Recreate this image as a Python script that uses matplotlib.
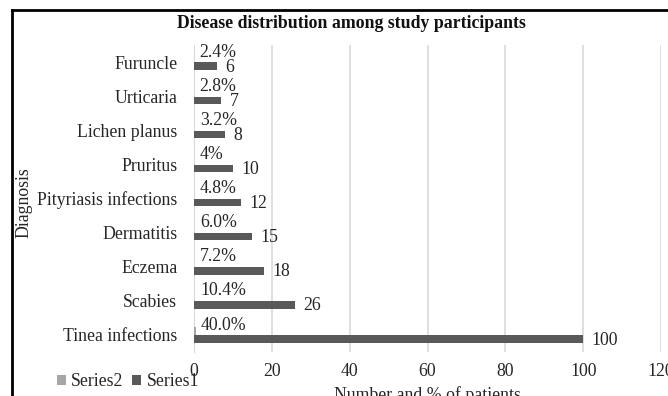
import matplotlib
matplotlib.use("Agg")
import matplotlib.pyplot as plt
from matplotlib.lines import Line2D
import numpy as np

plt.rcParams["font.family"] = ["Liberation Serif", "DejaVu Serif"]

# Diagnoses, top to bottom
diagnoses = ["Furuncle", "Urticaria", "Lichen planus", "Pruritus",
             "Pityriasis infections", "Dermatitis", "Eczema", "Scabies",
             "Tinea infections"]
# Series1: number of patients
patients = [6, 7, 8, 10, 12, 15, 18, 26, 100]
# Series2: share of patients (fraction)
share = [0.024, 0.028, 0.032, 0.04, 0.048, 0.06, 0.072, 0.104, 0.40]
share_labels = ["2.4%", "2.8%", "3.2%", "4%", "4.8%", "6.0%", "7.2%",
                "10.4%", "40.0%"]
x_ticks = [0, 20, 40, 60, 80, 100, 120]

W, H = 668, 396
fig = plt.figure(figsize=(W / 100, H / 100), dpi=100)
ax = fig.add_axes([194 / W, 1 - 352 / H, (661 - 194) / W, (352 - 45) / H])

y = np.arange(len(diagnoses))
h = 0.22
off = 0.12
c1, c2 = "#595959", "#a6a6a6"

ax.barh(y - off, share, height=h, color=c2, label="Series2", zorder=3)
ax.barh(y + off, patients, height=h, color=c1, label="Series1", zorder=3)

fs = 12.8
txt = "#262626"
# percentage labels sit above each pair, counts to the right of Series1
for yi, v, lab in zip(y, share, share_labels):
    ax.annotate(lab, (v, yi - 0.29), xytext=(4, 0),
                textcoords="offset points", ha="left", va="center",
                fontsize=fs, color=txt)
for yi, v in zip(y, patients):
    ax.annotate(str(v), (v, yi + 0.15), xytext=(6, 0),
                textcoords="offset points", ha="left", va="center",
                fontsize=fs, color=txt)

ax.set_xlim(0, 120)
ax.set_ylim(len(diagnoses) - 0.5, -0.5)
ax.set_xticks(x_ticks)
ax.set_yticks(y)
ax.set_yticklabels(diagnoses)
ax.tick_params(axis="both", length=0, labelsize=fs, colors=txt)
ax.tick_params(axis="y", pad=12)
ax.tick_params(axis="x", pad=8)
ax.grid(axis="x", color="#d9d9d9", linewidth=1.2, zorder=0)
for s in ["top", "right", "bottom"]:
    ax.spines[s].set_visible(False)
ax.spines["left"].set_color("#d9d9d9")

ax.set_xlabel("Number and % of patients", fontsize=fs, color=txt,
              labelpad=4)
fig.text(24 / W, 1 - 203 / H, "Diagnosis", rotation=90, ha="center",
         va="center", fontsize=fs, color=txt)
fig.text(351 / W, 1 - 24 / H, "Disease distribution among study participants",
         ha="center", va="center", fontsize=fs, fontweight="bold",
         color="#111111")

handles, labels = ax.get_legend_handles_labels()
fig.legend(handles, labels, loc="center left",
           bbox_to_anchor=(57 / W, 1 - 382 / H), ncol=2, frameon=False,
           fontsize=fs, handlelength=0.5, handleheight=0.5,
           handletextpad=0.3, columnspacing=0.5, labelcolor=txt,
           borderpad=0, borderaxespad=0)

# outer frame edges
fig.add_artist(Line2D([12 / W, 1], [1 - 10 / H] * 2, color="black",
                      linewidth=2, transform=fig.transFigure))
fig.add_artist(Line2D([12 / W] * 2, [0, 1 - 10 / H], color="black",
                      linewidth=2, transform=fig.transFigure))

fig.savefig("out.png", dpi=100)
